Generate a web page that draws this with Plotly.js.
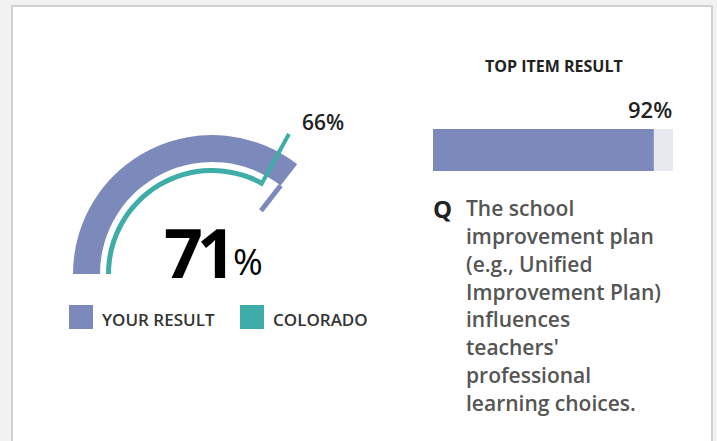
<!DOCTYPE html>
<html><head><meta charset="utf-8">
<script src="https://cdn.plot.ly/plotly-3.0.1.min.js"></script>
<style>html,body{margin:0;padding:0;background:#f2f2f2;}#chart{width:717px;height:441px;}</style>
</head><body><div id="chart"></div>
<script>
// ---- data ----
const seriesNames = ['YOUR RESULT', 'COLORADO'];
const seriesValues = [71, 66];
const topItemTitle = 'TOP ITEM RESULT';
const topItemValue = [92];
const topItemMax = [100];
const questionMark = 'Q';
const questionLines = ['The school', 'improvement plan', '(e.g., Unified', 'Improvement Plan)', 'influences', "teachers'", 'professional', 'learning choices.'];

// ---- styles / geometry ----
const W = 717, H = 441;
const px = x => x / W, py = y => (H - y) / H;
const COLORS = ['#7b89bb', '#3fada7'];
const TRACK = '#e8e9ee';
const FONT = '"Open Sans", sans-serif';
const cx = 212, cy = 274, R = 160;
const arcStyle = [
  {base: 112, thick: 27, tickIn: 80, tickOut: 112, tickW: 5},
  {base: 101, thick: 5, tickIn: 101, tickOut: 160, tickW: 4}
];
const deg = v => v / 100 * 180;

const traces = [];
seriesValues.forEach((v, i) => {
  traces.push({
    type: 'barpolar', subplot: 'polar',
    r: [arcStyle[i].thick], base: [arcStyle[i].base],
    theta: [deg(v) / 2], width: [deg(v)],
    marker: {color: COLORS[i], line: {width: 0}},
    hoverinfo: 'skip', showlegend: false
  });
});
seriesValues.forEach((v, i) => {
  traces.push({
    type: 'scatterpolar', subplot: 'polar', mode: 'lines',
    r: [arcStyle[i].tickIn, arcStyle[i].tickOut], theta: [deg(v), deg(v)],
    line: {color: COLORS[i], width: arcStyle[i].tickW},
    hoverinfo: 'skip', showlegend: false
  });
});
traces.push({type: 'bar', orientation: 'h', y: [0], x: topItemMax, width: [1],
  marker: {color: TRACK}, hoverinfo: 'skip', showlegend: false, xaxis: 'x', yaxis: 'y'});
traces.push({type: 'bar', orientation: 'h', y: [0], x: topItemValue, width: [1],
  marker: {color: COLORS[0]}, hoverinfo: 'skip', showlegend: false, xaxis: 'x', yaxis: 'y'});

const annotations = [];
const ann = (o) => annotations.push(Object.assign({xref: 'paper', yref: 'paper', showarrow: false, borderpad: 0}, o));

// big value
ann({x: px(231), y: py(251), xanchor: 'right', yanchor: 'middle',
  text: '<span style="letter-spacing:-6px"><b>' + seriesValues[0] + '</b></span>',
  font: {family: FONT, size: 68, color: '#000000', weight: 700}});
ann({x: px(232), y: py(262), xanchor: 'left', yanchor: 'middle', text: '%',
  font: {family: FONT, size: 36, color: '#000000'}});
// comparison label
ann({x: px(323), y: py(122), xanchor: 'center', yanchor: 'middle', text: seriesValues[1] + '%',
  font: {family: FONT, size: 21, color: '#222222', weight: 600}});
// legend
const legendX = [69, 240];
const shapes = [];
shapes.push({type: 'rect', xref: 'paper', yref: 'paper', x0: px(12), x1: px(712), y0: -0.1, y1: py(6),
  line: {color: '#d0d0d0', width: 2}, fillcolor: '#ffffff', layer: 'below'});
seriesNames.forEach((n, i) => {
  shapes.push({type: 'rect', xref: 'paper', yref: 'paper', x0: px(legendX[i]), x1: px(legendX[i] + 24),
    y0: py(329), y1: py(305), line: {width: 0}, fillcolor: COLORS[i], layer: 'above'});
  ann({x: px(legendX[i] + 32), y: py(319), xanchor: 'left', yanchor: 'middle', text: n,
    font: {family: FONT, size: 17, color: '#333333', weight: 600}});
});
// right panel
ann({x: px(554), y: py(66), xanchor: 'center', yanchor: 'middle', text: '<b>' + topItemTitle + '</b>',
  font: {family: FONT, size: 16, color: '#222222', weight: 700}});
ann({xref: 'x', x: topItemMax[0], y: py(109), xanchor: 'right', yanchor: 'middle', text: topItemValue[0] + '%',
  font: {family: FONT, size: 22, color: '#222222', weight: 600}});
ann({x: px(432), y: py(208), xanchor: 'left', yanchor: 'middle', text: '<b>' + questionMark + '</b>',
  font: {family: FONT, size: 24, color: '#222222', weight: 700}});
questionLines.forEach((t, i) => {
  ann({x: px(465), y: py(208 + i * 27.86), xanchor: 'left', yanchor: 'middle', text: t,
    font: {family: FONT, size: 21, color: '#555555', weight: 600}});
});

const layout = {
  width: W, height: H,
  margin: {l: 0, r: 0, t: 0, b: 0, pad: 0},
  paper_bgcolor: '#f2f2f2', plot_bgcolor: 'rgba(0,0,0,0)',
  showlegend: false,
  barmode: 'overlay',
  polar: {
    domain: {x: [px(cx - R), px(cx + R)], y: [py(cy), py(cy - R)]},
    sector: [0, 180], hole: 0, bgcolor: 'rgba(0,0,0,0)', barmode: 'overlay',
    radialaxis: {range: [0, R], visible: false, showgrid: false},
    angularaxis: {visible: false, showgrid: false, rotation: 180, direction: 'clockwise', thetaunit: 'degrees'}
  },
  xaxis: {domain: [px(433), px(673)], range: [0, 100], visible: false, fixedrange: true},
  yaxis: {domain: [py(171), py(129)], range: [-0.5, 0.5], visible: false, fixedrange: true},
  shapes: shapes,
  annotations: annotations
};
Plotly.newPlot('chart', traces, layout, {displayModeBar: false, staticPlot: true});
</script>
</body></html>
